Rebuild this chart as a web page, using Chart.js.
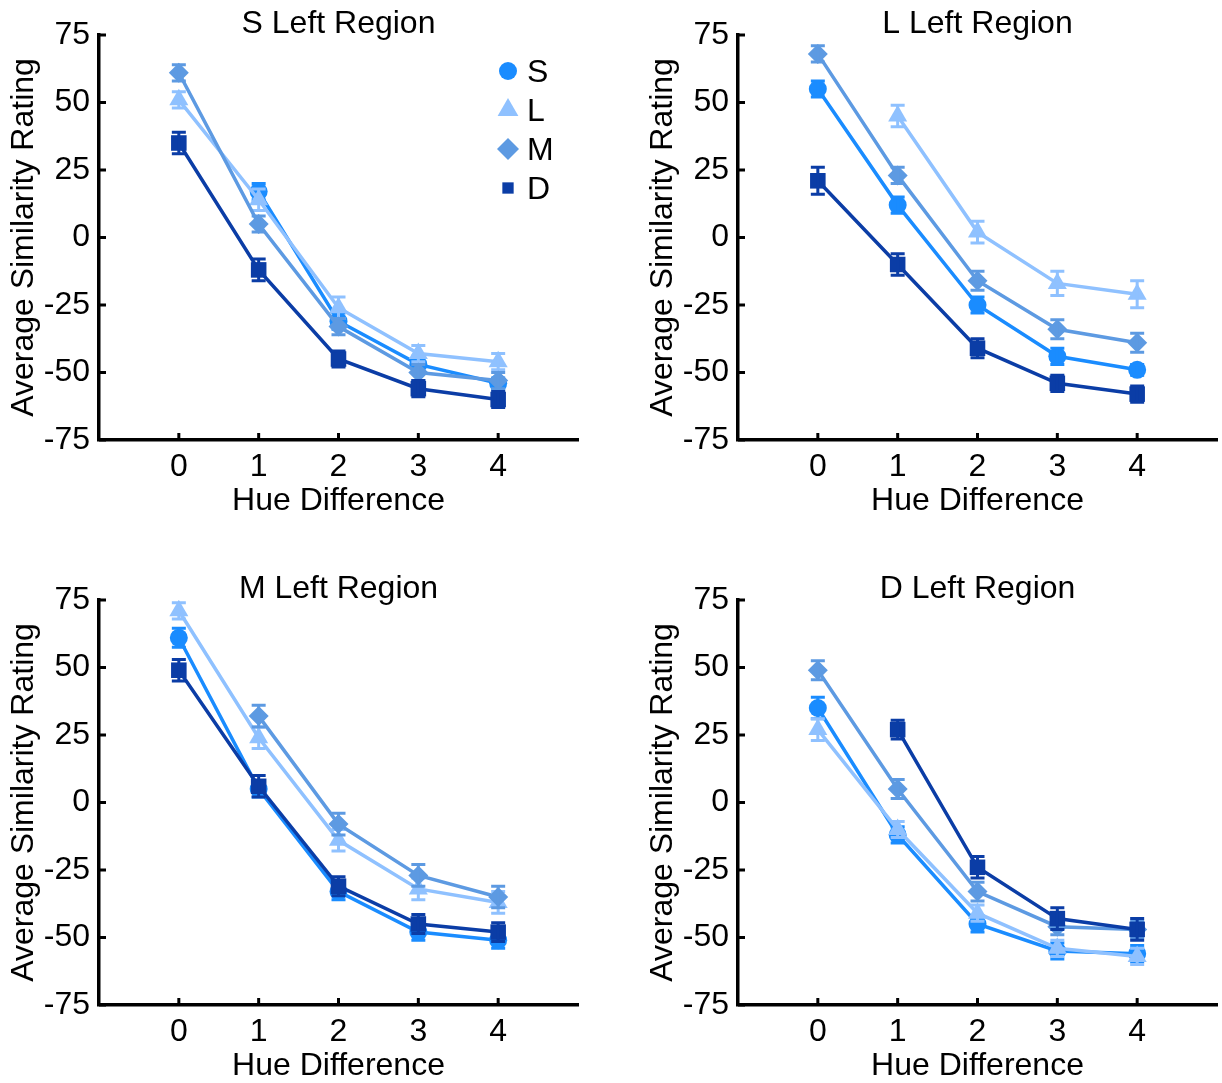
<!DOCTYPE html>
<html>
<head>
<meta charset="utf-8">
<script src="https://cdn.jsdelivr.net/npm/chart.js@4.4.0/dist/chart.umd.min.js"></script>
<style>
  body { margin: 0; background: #fff; }
  .wrap { position: relative; width: 1222px; height: 1083px; }
  .cell { position: absolute; width: 585px; height: 518px; }
</style>
</head>
<body>
<div class="wrap">
  <div class="cell" style="left:0;top:0"><canvas id="c0"></canvas></div>
  <div class="cell" style="left:639px;top:0"><canvas id="c1"></canvas></div>
  <div class="cell" style="left:0;top:565px"><canvas id="c2"></canvas></div>
  <div class="cell" style="left:639px;top:565px"><canvas id="c3"></canvas></div>
</div>
<script>
// x categories + tick labels
var hueDiff = [0, 1, 2, 3, 4];
var yTicks = [-75, -50, -25, 0, 25, 50, 75];
var seriesNames = ["S", "L", "M", "D"];
var panelTitles = ["S Left Region", "L Left Region", "M Left Region", "D Left Region"];

// S Left Region
var sLeftS = [null, 17, -31, -47, -54];
var sLeftL = [51, 14, -26, -43, -46];
var sLeftM = [61, 5, -33, -50, -53];
var sLeftD = [35, -12, -45, -56, -60];
var sLeftErrS = [0, 3, 3, 3, 2];
var sLeftErrL = [3, 4, 4, 3, 3];
var sLeftErrM = [3, 3, 3, 3, 3];
var sLeftErrD = [4, 4, 3, 3, 3];

// L Left Region
var lLeftS = [55, 12, -25, -44, -49];
var lLeftL = [null, 45, 2, -17, -21];
var lLeftM = [68, 23, -16, -34, -39];
var lLeftD = [21, -10, -41, -54, -58];
var lLeftErrS = [3, 3, 3, 3, 2];
var lLeftErrL = [0, 4, 4, 4.5, 5];
var lLeftErrM = [3, 3, 3.5, 3.5, 3.5];
var lLeftErrD = [5, 4, 3.5, 3, 3];

// M Left Region
var mLeftS = [61, 5, -33, -48, -51];
var mLeftL = [71, 24, -14, -32, -37];
var mLeftM = [null, 32, -8, -27, -35];
var mLeftD = [49, 6, -31, -45, -48];
var mLeftErrS = [3.5, 3, 3, 3, 3];
var mLeftErrL = [3, 4, 4, 4, 4];
var mLeftErrM = [0, 4, 4, 4, 4];
var mLeftErrD = [4, 4, 3.5, 3.5, 3.5];

// D Left Region
var dLeftS = [35, -12, -45, -55, -56];
var dLeftL = [27, -10, -41, -54, -57];
var dLeftM = [49, 5, -33, -46, -47];
var dLeftD = [null, 27, -24, -43, -47];
var dLeftErrS = [4, 3, 3, 3, 3];
var dLeftErrL = [4, 3, 3, 3, 3];
var dLeftErrM = [3.5, 3.5, 3.5, 3, 3];
var dLeftErrD = [0, 3.5, 4, 4, 4];

var panelValues = [
  [sLeftS, sLeftL, sLeftM, sLeftD],
  [lLeftS, lLeftL, lLeftM, lLeftD],
  [mLeftS, mLeftL, mLeftM, mLeftD],
  [dLeftS, dLeftL, dLeftM, dLeftD]
];
var panelErrors = [
  [sLeftErrS, sLeftErrL, sLeftErrM, sLeftErrD],
  [lLeftErrS, lLeftErrL, lLeftErrM, lLeftErrD],
  [mLeftErrS, mLeftErrL, mLeftErrM, mLeftErrD],
  [dLeftErrS, dLeftErrL, dLeftErrM, dLeftErrD]
];

var colors = ["#1a8cff", "#8fc1ff", "#5d9ae2", "#0b3da6"];
var markers = ["circle", "triangle", "rectRot", "rect"];
var markerSize = [9, 11, 10, 11];
var legendSize = [9, 12, 11, 8];

var FONT = "'Liberation Sans', Arial, Helvetica, sans-serif";
Chart.defaults.font.family = FONT;
Chart.defaults.color = "#000";

// vertical error bars with caps, drawn per dataset
var errorBars = {
  id: "errorBars",
  afterDatasetDraw: function(chart, args) {
    var ds = chart.data.datasets[args.index];
    var yScale = chart.scales.y;
    var ctx = chart.ctx;
    ctx.save();
    ctx.strokeStyle = ds.borderColor;
    ctx.lineWidth = 3;
    ds.data.forEach(function(pt, i) {
      if (pt.y == null) return;
      var px = args.meta.data[i].x;
      var top = yScale.getPixelForValue(pt.y + ds.err[i]);
      var bot = yScale.getPixelForValue(pt.y - ds.err[i]);
      ctx.beginPath();
      ctx.moveTo(px, top); ctx.lineTo(px, bot);
      ctx.moveTo(px - 7, top); ctx.lineTo(px + 7, top);
      ctx.moveTo(px - 7, bot); ctx.lineTo(px + 7, bot);
      ctx.stroke();
    });
    ctx.restore();
  }
};

// matlab style ticks pointing into the plot
var innerTicks = {
  id: "innerTicks",
  afterDraw: function(chart) {
    var ctx = chart.ctx, a = chart.chartArea;
    var xs = chart.scales.x, ys = chart.scales.y;
    ctx.save();
    ctx.strokeStyle = "#000";
    ctx.lineWidth = 3;
    ctx.beginPath();
    xs.ticks.forEach(function(t) {
      var p = xs.getPixelForValue(t.value);
      ctx.moveTo(p, a.bottom); ctx.lineTo(p, a.bottom - 7);
    });
    ys.ticks.forEach(function(t) {
      var p = ys.getPixelForValue(t.value);
      ctx.moveTo(a.left, p); ctx.lineTo(a.left + 7, p);
    });
    ctx.stroke();
    ctx.restore();
  }
};

// panel title centred over the plot area
var areaTitle = {
  id: "areaTitle",
  afterDraw: function(chart, args, opts) {
    var ctx = chart.ctx, a = chart.chartArea;
    ctx.save();
    ctx.font = "32px " + FONT;
    ctx.fillStyle = "#000";
    ctx.textAlign = "center";
    ctx.textBaseline = "middle";
    ctx.fillText(opts.text, (a.left + a.right) / 2, a.top - 11);
    ctx.restore();
  }
};

// legend in the upper right of the first panel
var cornerLegend = {
  id: "cornerLegend",
  afterDraw: function(chart, args, opts) {
    if (!opts.show) return;
    var ctx = chart.ctx, a = chart.chartArea;
    var x = a.right - 70;
    ctx.save();
    ctx.font = "32px " + FONT;
    ctx.textBaseline = "middle";
    ctx.textAlign = "left";
    chart.data.datasets.forEach(function(ds, i) {
      var y = a.top + 36 + i * 39;
      ctx.fillStyle = ds.borderColor;
      Chart.helpers.drawPoint(ctx, {
        pointStyle: ds.pointStyle, radius: legendSize[i], rotation: 0, borderWidth: 0
      }, x, y);
      ctx.fillStyle = "#000";
      ctx.fillText(ds.label, x + 19, y + 2);
    });
    ctx.restore();
  }
};

function buildChart(idx) {
  var datasets = seriesNames.map(function(name, s) {
    return {
      label: name,
      data: hueDiff.map(function(h, i) { return { x: h, y: panelValues[idx][s][i] }; }),
      err: panelErrors[idx][s],
      borderColor: colors[s],
      backgroundColor: colors[s],
      borderWidth: 3.5,
      pointStyle: markers[s],
      pointRadius: markerSize[s],
      pointBorderWidth: 0,
      pointBackgroundColor: colors[s],
      order: 3 - s
    };
  });

  new Chart(document.getElementById("c" + idx), {
    type: "line",
    data: { datasets: datasets },
    plugins: [errorBars, innerTicks, areaTitle, cornerLegend],
    options: {
      responsive: true,
      maintainAspectRatio: false,
      animation: false,
      layout: { autoPadding: false, padding: { left: 0, right: 7, top: 35, bottom: 0 } },
      plugins: {
        legend: { display: false },
        tooltip: { enabled: false },
        title: { display: false },
        areaTitle: { text: panelTitles[idx] },
        cornerLegend: { show: idx === 0 }
      },
      scales: {
        x: {
          type: "linear",
          min: -1,
          max: 5,
          afterBuildTicks: function(scale) {
            scale.ticks = hueDiff.map(function(v) { return { value: v }; });
          },
          afterFit: function(scale) {
            scale.height = 78;
            scale.paddingLeft = 0;
            scale.paddingRight = 0;
          },
          grid: { display: false, drawTicks: false },
          border: { display: true, color: "#000", width: 3.5 },
          ticks: { font: { size: 32, lineHeight: 1 }, padding: 11, color: "#000" },
          title: {
            display: true,
            text: "Hue Difference",
            color: "#000",
            font: { size: 32, lineHeight: 1 },
            padding: { top: 0, bottom: 1 }
          }
        },
        y: {
          min: -75,
          max: 75,
          afterBuildTicks: function(scale) {
            scale.ticks = yTicks.map(function(v) { return { value: v }; });
          },
          afterFit: function(scale) { scale.width = 99; },
          grid: { display: false, drawTicks: false },
          border: { display: true, color: "#000", width: 3.5 },
          ticks: { font: { size: 32, lineHeight: 1 }, padding: 9, color: "#000" },
          title: {
            display: true,
            text: "Average Similarity Rating",
            color: "#000",
            font: { size: 32, lineHeight: 1 },
            padding: { top: 8, bottom: 0 }
          }
        }
      }
    }
  });
}

for (var p = 0; p < 4; p++) buildChart(p);
</script>
</body>
</html>
